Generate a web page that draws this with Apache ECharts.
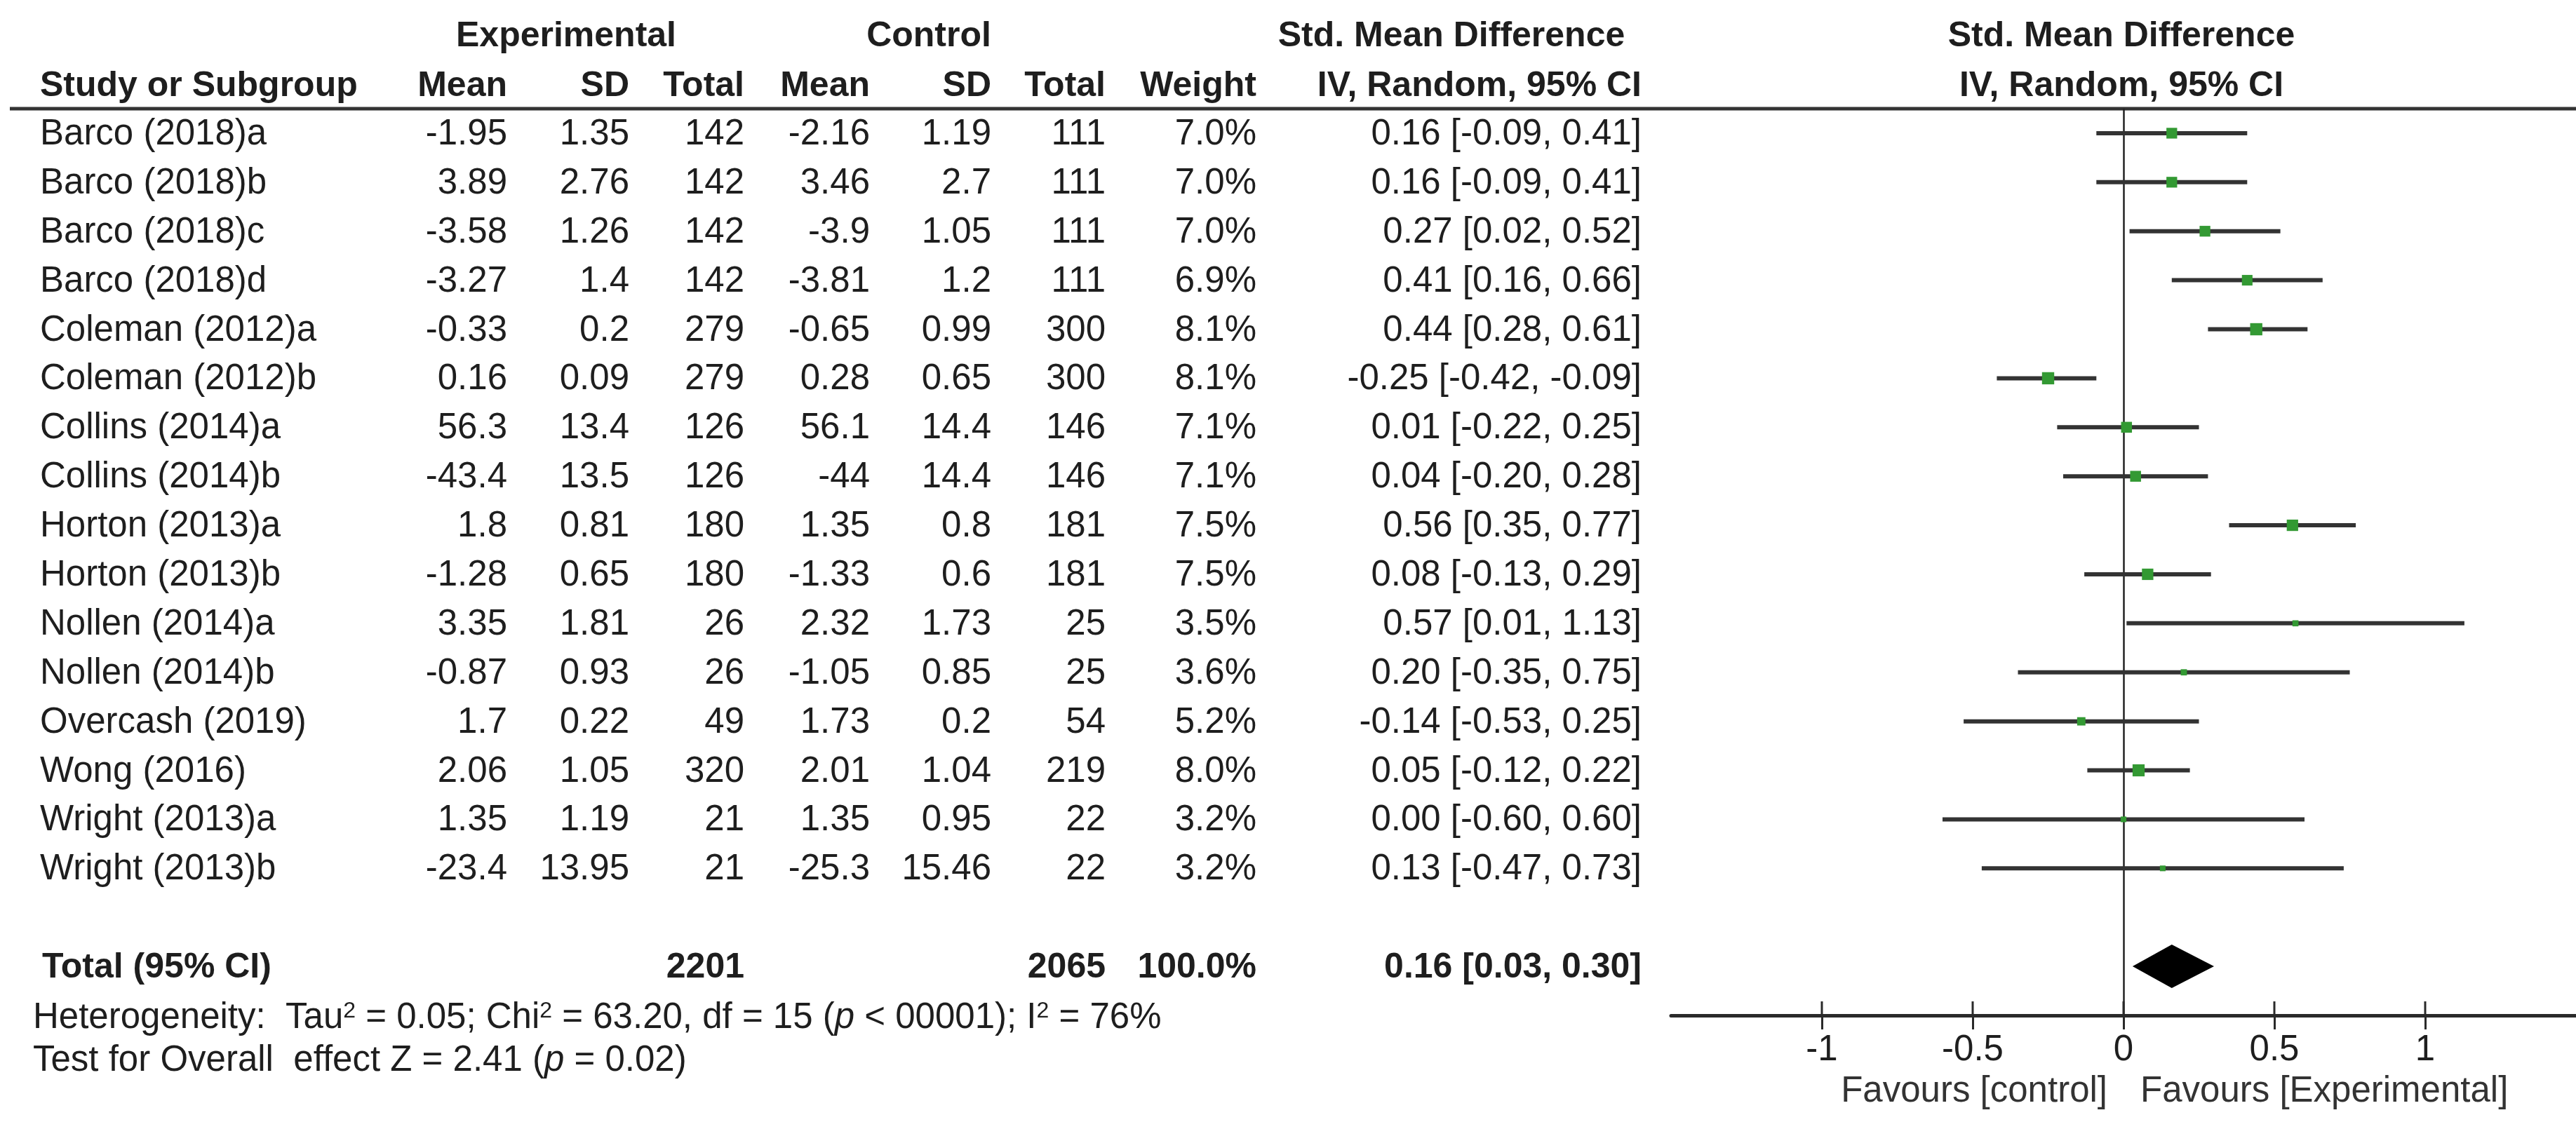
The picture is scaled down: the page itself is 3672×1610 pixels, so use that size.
<!DOCTYPE html>
<html><head><meta charset="utf-8">
<script src="https://cdn.jsdelivr.net/npm/echarts@6/dist/echarts.min.js"></script>
<style>html,body{margin:0;padding:0;background:#fff}#c{width:3672px;height:1610px}</style>
</head><body><div id="c"></div>
<script>
// ---------------- data ----------------
const studies = ['Barco (2018)a','Barco (2018)b','Barco (2018)c','Barco (2018)d','Coleman (2012)a','Coleman (2012)b','Collins (2014)a','Collins (2014)b','Horton (2013)a','Horton (2013)b','Nollen (2014)a','Nollen (2014)b','Overcash (2019)','Wong (2016)','Wright (2013)a','Wright (2013)b'];
const expMean  = [-1.95, 3.89, -3.58, -3.27, -0.33, 0.16, 56.3, -43.4, 1.8, -1.28, 3.35, -0.87, 1.7, 2.06, 1.35, -23.4];
const expSD    = [1.35, 2.76, 1.26, 1.4, 0.2, 0.09, 13.4, 13.5, 0.81, 0.65, 1.81, 0.93, 0.22, 1.05, 1.19, 13.95];
const expTotal = [142, 142, 142, 142, 279, 279, 126, 126, 180, 180, 26, 26, 49, 320, 21, 21];
const ctlMean  = [-2.16, 3.46, -3.9, -3.81, -0.65, 0.28, 56.1, -44, 1.35, -1.33, 2.32, -1.05, 1.73, 2.01, 1.35, -25.3];
const ctlSD    = [1.19, 2.7, 1.05, 1.2, 0.99, 0.65, 14.4, 14.4, 0.8, 0.6, 1.73, 0.85, 0.2, 1.04, 0.95, 15.46];
const ctlTotal = [111, 111, 111, 111, 300, 300, 146, 146, 181, 181, 25, 25, 54, 219, 22, 22];
const weight   = [7.0, 7.0, 7.0, 6.9, 8.1, 8.1, 7.1, 7.1, 7.5, 7.5, 3.5, 3.6, 5.2, 8.0, 3.2, 3.2];
const smd      = [0.16, 0.16, 0.27, 0.41, 0.44, -0.25, 0.01, 0.04, 0.56, 0.08, 0.57, 0.20, -0.14, 0.05, 0.00, 0.13];
const ciLow    = [-0.09, -0.09, 0.02, 0.16, 0.28, -0.42, -0.22, -0.20, 0.35, -0.13, 0.01, -0.35, -0.53, -0.12, -0.60, -0.47];
const ciHigh   = [0.41, 0.41, 0.52, 0.66, 0.61, -0.09, 0.25, 0.28, 0.77, 0.29, 1.13, 0.75, 0.25, 0.22, 0.60, 0.73];
const totalExp = 2201, totalCtl = 2065, totalWeight = 100.0;
const totalSmd = 0.16, totalLow = 0.03, totalHigh = 0.30;
const xTicks = [-1, -0.5, 0, 0.5, 1];
const heterogeneity = 'Heterogeneity:  Tau{sup|2} = 0.05; Chi{sup|2} = 63.20, df = 15 ({it|p} < 00001); I{sup|2} = 76%';
const overallTest = 'Test for Overall  effect Z = 2.41 ({it|p} = 0.02)';
const favourLeft = 'Favours [control]', favourRight = 'Favours [Experimental]';

// ---------------- chart ----------------
const FONT = "'Liberation Sans', Arial, Helvetica, sans-serif";
const FS = 51, TXT = '#1e1e1e';
const chart = echarts.init(document.getElementById('c'), null, {renderer: 'canvas'});
const totalRow = studies.length + 1;
const yMax = totalRow + 1;

const ciData = studies.map((s, i) => [smd[i], ciLow[i], ciHigh[i], i, weight[i]]);

chart.setOption({
  animation: false,
  backgroundColor: '#ffffff',
  grid: {left: 2382, top: 155, width: 1302, height: 1293},
  xAxis: {
    type: 'value', min: -1.5, max: 1.5, position: 'bottom',
    axisLine: {show: true, onZero: false, lineStyle: {color: '#2a2a2a', width: 5}},
    axisTick: {show: true, inside: false, length: 20, customValues: xTicks, lineStyle: {color: '#2a2a2a', width: 3}},
    axisLabel: {show: true, customValues: xTicks, margin: 24, fontSize: FS, fontFamily: FONT, color: TXT},
    splitLine: {show: false}
  },
  yAxis: {
    type: 'value', min: -0.5, max: yMax, inverse: true, show: false,
    splitLine: {show: false}
  },
  series: [{
    type: 'custom',
    data: ciData,
    encode: {x: [0, 1, 2], y: 3},
    z: 3,
    renderItem: function (params, api) {
      const row = api.value(3);
      const a = api.coord([api.value(1), row]);
      const b = api.coord([api.value(2), row]);
      const c = api.coord([api.value(0), row]);
      const s = 1.9 * api.value(4) + 2;
      return {type: 'group', children: [
        {type: 'line', shape: {x1: a[0], y1: a[1], x2: b[0], y2: b[1]}, style: {stroke: '#333333', lineWidth: 6}},
        {type: 'rect', shape: {x: c[0] - s / 2, y: c[1] - s / 2, width: s, height: s}, style: {fill: '#339933'}}
      ]};
    },
    markLine: {
      silent: true, symbol: ['none', 'none'], label: {show: false},
      lineStyle: {color: '#222222', width: 2.5, type: 'solid'},
      data: [{xAxis: 0}], z: 1
    }
  }, {
    type: 'custom',
    data: [[totalSmd, totalLow, totalHigh, totalRow]],
    encode: {x: [0, 1, 2], y: 3},
    z: 4,
    renderItem: function (params, api) {
      const row = api.value(3);
      const a = api.coord([api.value(1), row]);
      const b = api.coord([api.value(2), row]);
      const c = api.coord([api.value(0), row]);
      const h = 31;
      return {type: 'polygon', shape: {points: [[a[0], a[1]], [c[0], c[1] - h], [b[0], b[1]], [c[0], c[1] + h]]}, style: {fill: '#000000'}};
    }
  }, {
    // upper half of the axis ticks (ticks cross the axis line)
    type: 'custom',
    data: xTicks.map(v => [v, yMax]),
    encode: {x: 0, y: 1},
    z: 5,
    renderItem: function (params, api) {
      const p = api.coord([api.value(0), api.value(1)]);
      return {type: 'line', shape: {x1: p[0], y1: p[1] - 20, x2: p[0], y2: p[1]}, style: {stroke: '#2a2a2a', lineWidth: 3}};
    }
  }]
});

// ---------------- table text ----------------
function rowY(i) { return chart.convertToPixel({yAxisIndex: 0}, i); }
function txt(x, y, text, align, bold, size, extra) {
  return {type: 'text', x: x, y: y, silent: true, style: Object.assign({
    text: text, fill: TXT, fontSize: size || FS, fontFamily: FONT, fontWeight: bold ? 'bold' : 'normal',
    align: align, textAlign: align, verticalAlign: 'middle', textVerticalAlign: 'middle'
  }, extra || {})};
}
const cols = {study: 57, expMean: 723, expSD: 897, expTotal: 1061, ctlMean: 1240, ctlSD: 1413, ctlTotal: 1576, weight: 1791, ci: 2340};
const els = [];
const h1 = 52, h2 = 123;
const zeroX = chart.convertToPixel({xAxisIndex: 0}, 0);
els.push(txt(807, h1, 'Experimental', 'center', true, 50));
els.push(txt(1324, h1, 'Control', 'center', true, 50));
els.push(txt(2069, h1, 'Std. Mean Difference', 'center', true, 50));
els.push(txt(zeroX - 3, h1, 'Std. Mean Difference', 'center', true, 50));
els.push(txt(cols.study, h2, 'Study or Subgroup', 'left', true, 50));
els.push(txt(cols.expMean, h2, 'Mean', 'right', true, 50));
els.push(txt(cols.expSD, h2, 'SD', 'right', true, 50));
els.push(txt(cols.expTotal, h2, 'Total', 'right', true, 50));
els.push(txt(cols.ctlMean, h2, 'Mean', 'right', true, 50));
els.push(txt(cols.ctlSD, h2, 'SD', 'right', true, 50));
els.push(txt(cols.ctlTotal, h2, 'Total', 'right', true, 50));
els.push(txt(cols.weight, h2, 'Weight', 'right', true, 50));
els.push(txt(cols.ci, h2, 'IV, Random, 95% CI', 'right', true, 50));
els.push(txt(zeroX - 3, h2, 'IV, Random, 95% CI', 'center', true, 50));
els.push({type: 'line', silent: true, shape: {x1: 14, y1: 155, x2: 3672, y2: 155}, style: {stroke: '#333333', lineWidth: 5}});
studies.forEach((s, i) => {
  const y = rowY(i) + 2;
  els.push(txt(cols.study, y, s, 'left'));
  els.push(txt(cols.expMean, y, String(expMean[i]), 'right'));
  els.push(txt(cols.expSD, y, String(expSD[i]), 'right'));
  els.push(txt(cols.expTotal, y, String(expTotal[i]), 'right'));
  els.push(txt(cols.ctlMean, y, String(ctlMean[i]), 'right'));
  els.push(txt(cols.ctlSD, y, String(ctlSD[i]), 'right'));
  els.push(txt(cols.ctlTotal, y, String(ctlTotal[i]), 'right'));
  els.push(txt(cols.weight, y, weight[i].toFixed(1) + '%', 'right'));
  els.push(txt(cols.ci, y, smd[i].toFixed(2) + ' [' + ciLow[i].toFixed(2) + ', ' + ciHigh[i].toFixed(2) + ']', 'right'));
});
const ty = rowY(totalRow) + 2;
els.push(txt(60, ty, 'Total (95% CI)', 'left', true, 50));
els.push(txt(cols.expTotal, ty, String(totalExp), 'right', true, 50));
els.push(txt(cols.ctlTotal, ty, String(totalCtl), 'right', true, 50));
els.push(txt(cols.weight, ty, totalWeight.toFixed(1) + '%', 'right', true, 50));
els.push(txt(cols.ci, ty, totalSmd.toFixed(2) + ' [' + totalLow.toFixed(2) + ', ' + totalHigh.toFixed(2) + ']', 'right', true, 50));
const rich = {sup: {fontSize: 32, fontFamily: FONT, fill: TXT, verticalAlign: 'top'}, it: {fontSize: FS, fontFamily: FONT, fontStyle: 'italic', fill: TXT}};
els.push(txt(47, 1452, heterogeneity, 'left', false, FS, {rich: rich}));
els.push(txt(47, 1513, overallTest, 'left', false, FS, {rich: rich}));
els.push(txt(zeroX - 23, 1557, favourLeft, 'right', false, FS, {fill: '#333333'}));
els.push(txt(zeroX + 24, 1557, favourRight, 'left', false, FS, {fill: '#333333'}));

chart.setOption({graphic: {elements: els}});
</script>
</body></html>
